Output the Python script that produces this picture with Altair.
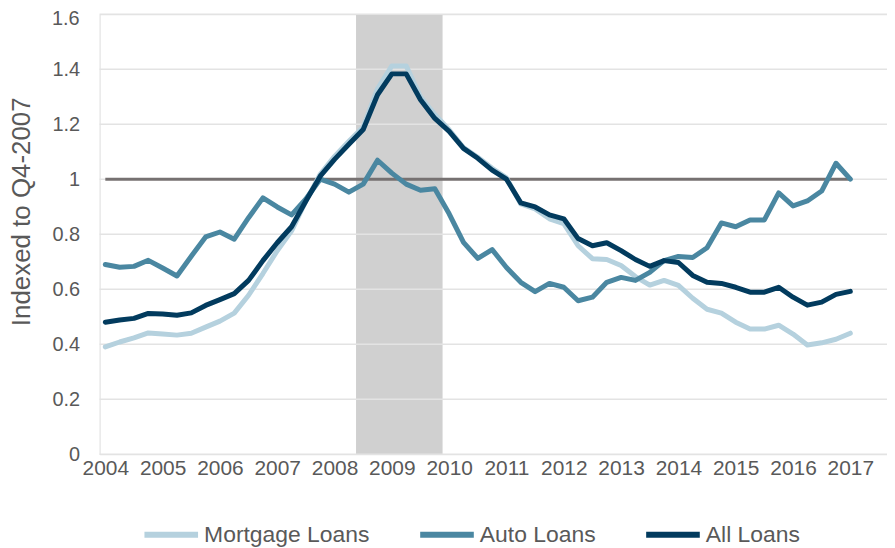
import altair as alt
import pandas as pd

years = [2004 + 0.25 * i for i in range(53)]

mortgage = [0.390, 0.408, 0.423, 0.441, 0.437, 0.433, 0.440, 0.462, 0.484, 0.513,
            0.578, 0.657, 0.740, 0.812, 0.921, 1.018, 1.083, 1.138, 1.190, 1.329,
            1.412, 1.412, 1.300, 1.235, 1.180, 1.115, 1.080, 1.040, 1.005, 0.910,
            0.892, 0.856, 0.838, 0.758, 0.711, 0.708, 0.686, 0.646, 0.615, 0.632,
            0.614, 0.567, 0.527, 0.513, 0.480, 0.455, 0.455, 0.469, 0.437, 0.397,
            0.405, 0.418, 0.440]
auto = [0.690, 0.680, 0.683, 0.705, 0.677, 0.648, 0.720, 0.790, 0.808, 0.782,
        0.860, 0.932, 0.899, 0.870, 0.928, 1.000, 0.982, 0.953, 0.982, 1.069,
        1.022, 0.982, 0.960, 0.965, 0.874, 0.770, 0.712, 0.744, 0.679, 0.625,
        0.591, 0.621, 0.607, 0.558, 0.571, 0.625, 0.643, 0.632, 0.661, 0.704,
        0.719, 0.715, 0.751, 0.841, 0.827, 0.852, 0.852, 0.950, 0.903, 0.921,
        0.957, 1.058, 1.000]
all_loans = [0.480, 0.488, 0.494, 0.512, 0.510, 0.505, 0.514, 0.541, 0.562, 0.584,
             0.632, 0.704, 0.769, 0.827, 0.921, 1.011, 1.072, 1.127, 1.181, 1.307,
             1.383, 1.383, 1.289, 1.221, 1.174, 1.112, 1.076, 1.033, 1.000, 0.914,
             0.899, 0.870, 0.856, 0.784, 0.758, 0.769, 0.740, 0.708, 0.683, 0.704,
             0.697, 0.650, 0.625, 0.621, 0.607, 0.589, 0.589, 0.607, 0.571, 0.542,
             0.553, 0.581, 0.592]

series_names = ["Mortgage Loans", "Auto Loans", "All Loans"]
series_colors = ["#b5d1de", "#4a87a1", "#023b5e"]
year_ticks = list(range(2004, 2018))
y_ticks = [0, 0.2, 0.4, 0.6, 0.8, 1, 1.2, 1.4, 1.6]

recession = pd.DataFrame({"start": [2008.375], "end": [2009.885]})
ref = pd.DataFrame({"x": [2004.0], "x2": [2017.0], "y": [1.0]})

rows = []
for name, vals in zip(series_names, [mortgage, auto, all_loans]):
    for t, v in zip(years, vals):
        rows.append({"t": t, "v": v, "series": name})
df = pd.DataFrame(rows)

FONT = "Liberation Sans"
GREY = "#595959"
TOP = 5
H = 442

xscale = alt.Scale(domain=[2003.9, 2017.64], nice=False, zero=False)
yscale = alt.Scale(domain=[0, 1.6], nice=False)

shade = alt.Chart(recession).mark_rect(color="#d0d0d0").encode(
    x=alt.X("start:Q", scale=xscale,
            axis=alt.Axis(values=year_ticks, format="d", title=None, grid=False,
                          domain=False, ticks=False, labelFontSize=21, labelColor=GREY,
                          labelFont=FONT, labelPadding=3, labelOverlap=False,
                          labelFlush=False)),
    x2="end:Q",
    y=alt.value(0),
    y2=alt.value(H),
)

grid = alt.Chart(pd.DataFrame({"g": y_ticks})).mark_rule(color="#e3e3e3", strokeWidth=1.5).encode(
    y=alt.Y("g:Q", scale=yscale,
            axis=alt.Axis(values=y_ticks[:-1], title="Indexed to Q4-2007", grid=False,
                          domain=False, ticks=False, labelFontSize=20, labelColor=GREY,
                          labelFont=FONT, labelPadding=20, titleFont=FONT,
                          titleFontSize=26, titleFontWeight="normal", titleColor=GREY,
                          titleX=-78, titleY=211 - 8 - TOP, titleBaseline="middle",
                          titleAlign="center", labelFlush=False, format="~g")),
    x=alt.value(0),
    x2=alt.value(791),
)

# top tick label drawn as text so it stays inside the page
top_label = alt.Chart(pd.DataFrame({"g": [y_ticks[-1]], "lab": ["1.6"]})).mark_text(
    align="right", baseline="middle", dy=5, fontSize=20, font=FONT, color=GREY
).encode(
    y=alt.Y("g:Q", scale=yscale),
    x=alt.value(-20),
    text="lab:N",
)

hline = alt.Chart(ref).mark_rule(color="#767171", strokeWidth=3).encode(
    x=alt.X("x:Q", scale=xscale), x2="x2:Q", y=alt.Y("y:Q", scale=yscale)
)

lines = alt.Chart(df).mark_line(strokeWidth=5, strokeJoin="round", strokeCap="round").encode(
    x=alt.X("t:Q", scale=xscale),
    y=alt.Y("v:Q", scale=yscale),
    color=alt.Color("series:N",
                    scale=alt.Scale(domain=series_names, range=series_colors),
                    sort=series_names,
                    legend=alt.Legend(title=None, orient="none", direction="horizontal",
                                      legendX=42, legendY=493, symbolType="stroke",
                                      symbolSize=2900, symbolStrokeWidth=6,
                                      labelFontSize=23, labelColor=GREY, labelFont=FONT,
                                      labelLimit=400, columnPadding=38, labelOffset=3)),
    order=alt.Order("order:Q"),
).transform_calculate(
    order="indexof(['Mortgage Loans','Auto Loans','All Loans'], datum.series)"
)

chart = alt.layer(shade, grid, top_label, hline, lines).properties(
    width=791, height=H,
    autosize=alt.AutoSizeParams(type="none"),
    padding={"left": 92, "top": TOP, "right": 0, "bottom": 540 - TOP - H},
).configure_view(stroke=None).configure(background="white")

chart.save("out.html", embed_options={"renderer": "svg", "actions": False})
